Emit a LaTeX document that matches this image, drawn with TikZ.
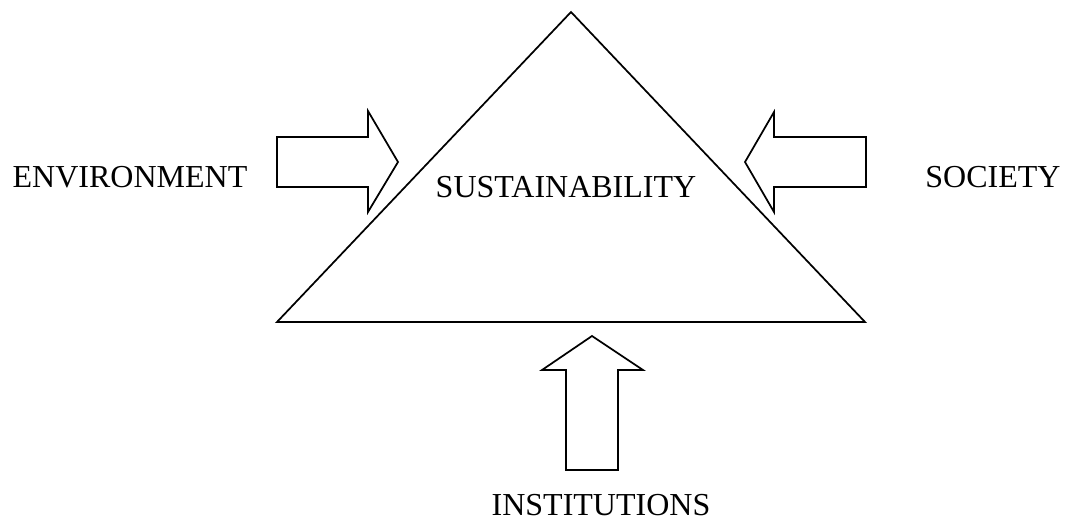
\documentclass[tikz,border=0pt]{standalone}
\usepackage{fontspec}
\setmainfont{Liberation Serif}
\begin{document}
\begin{tikzpicture}[x=0.75pt,y=-0.75pt,
  shape line/.style={draw=black,line width=1.3pt,line join=miter,fill=white},
  label text/.style={font=\fontsize{24}{28}\selectfont,inner sep=0pt,anchor=base}]
\useasboundingbox (0,0) rectangle (1067,519);
% triangle
\coordinate (apex) at (571,12);
\coordinate (bl) at (277,322);
\coordinate (br) at (865,322);
\draw[shape line] (apex) -- (br) -- (bl) -- cycle;
% left arrow (pointing right)
\draw[shape line] (277,137) -- (368,137) -- (368,111) -- (398,162) -- (368,212) -- (368,187) -- (277,187) -- cycle;
% right arrow (pointing left)
\draw[shape line] (866,137) -- (774,137) -- (774,112) -- (745,162) -- (774,212) -- (774,187) -- (866,187) -- cycle;
% bottom arrow (pointing up)
\draw[shape line] (566,470) -- (566,370) -- (542,370) -- (592,336) -- (643,370) -- (618,370) -- (618,470) -- cycle;
% labels
\node[label text] (env) at (130,187) {ENVIRONMENT};
\node[label text] (sus) at (566,197) {SUSTAINABILITY};
\node[label text] (soc) at (993,187) {SOCIETY};
\node[label text] (ins) at (601,515) {INSTITUTIONS};
\end{tikzpicture}
\end{document}
